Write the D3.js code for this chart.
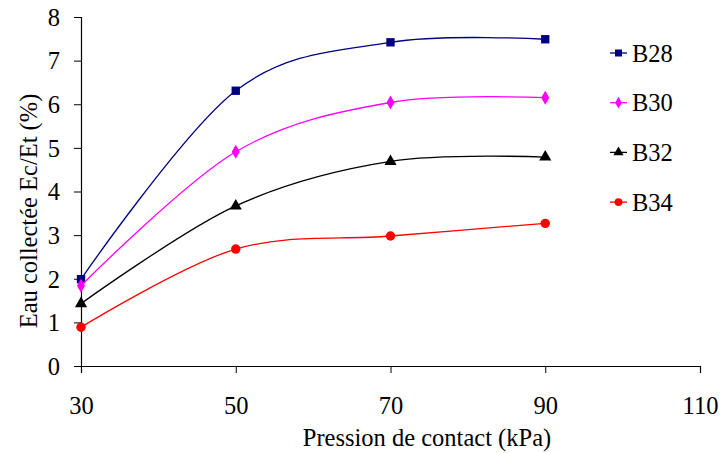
<!DOCTYPE html>
<html>
<head>
<meta charset="utf-8">
<script src="https://cdn.jsdelivr.net/npm/d3@7"></script>
<style>
  html, body { margin: 0; padding: 0; background: #fff; }
</style>
</head>
<body>
<svg id="chart" width="720" height="453"></svg>
<script>
// Contact pressure (kPa) and collected water ratio Ec/Et (%) per series
const pressures = [30, 50, 70, 90];
const seriesNames = ["B28", "B30", "B32", "B34"];
const b28 = [1.99, 6.31, 7.42, 7.49];
const b30 = [1.84, 4.91, 6.04, 6.15];
const b32 = [1.43, 3.67, 4.69, 4.79];
const b34 = [0.89, 2.68, 2.98, 3.27];
const xTicks = [30, 50, 70, 90, 110];
const yTicks = [0, 1, 2, 3, 4, 5, 6, 7, 8];

const FONT = "Liberation Serif, Times New Roman, serif";
const colors = { B28: "#000080", B30: "#ff00ff", B32: "#000000", B34: "#ff0000" };
const symbols = { B28: d3.symbolSquare, B30: d3.symbolDiamond, B32: d3.symbolTriangle, B34: d3.symbolCircle };
const symSize = { B28: 70, B30: 56, B32: 64, B34: 70 };

const series = [
  { name: "B28", values: b28 },
  { name: "B30", values: b30 },
  { name: "B32", values: b32 },
  { name: "B34", values: b34 }
];

const svg = d3.select("#chart");
const x = d3.scaleLinear().domain([30, 110]).range([81, 700]);
const y = d3.scaleLinear().domain([0, 8]).range([366, 17]);

// Axes
const xAxis = svg.append("g").attr("transform", `translate(0,${y(0)})`)
  .call(d3.axisBottom(x).tickValues(xTicks).tickSize(7).tickPadding(24).tickFormat(d3.format("d")));
const yAxis = svg.append("g").attr("transform", `translate(${x(30)},0)`)
  .call(d3.axisLeft(y).tickValues(yTicks).tickSize(7).tickPadding(14).tickFormat(d3.format("d")));
[xAxis, yAxis].forEach(g => {
  g.attr("font-family", FONT).attr("font-size", 24.5);
  g.selectAll("path.domain").attr("stroke", "#000").attr("stroke-width", 1.2);
  g.selectAll(".tick line").attr("stroke", "#000").attr("stroke-width", 1);
  g.selectAll(".tick text").attr("fill", "#000");
});
yAxis.selectAll(".tick text").attr("dy", "0.34em");
xAxis.selectAll(".tick text").attr("dy", "0.71em");

// Axis titles
svg.append("text").attr("x", 427).attr("y", 446).attr("text-anchor", "middle")
  .attr("font-family", FONT).attr("font-size", 24.5).attr("fill", "#000")
  .text("Pression de contact (kPa)");
svg.append("text").attr("transform", "translate(37,211) rotate(-90)")
  .attr("text-anchor", "middle")
  .attr("font-family", FONT).attr("font-size", 24.5).attr("fill", "#000")
  .text("Eau collectée Ec/Et (%)");

// Smoothed series lines and markers
const line = d3.line().x(d => x(d[0])).y(d => y(d[1])).curve(d3.curveCardinal.tension(0));
series.forEach(s => {
  const pts = pressures.map((p, i) => [p, s.values[i]]);
  svg.append("path").datum(pts).attr("d", line)
    .attr("fill", "none").attr("stroke", colors[s.name]).attr("stroke-width", 1.3);
  svg.selectAll(null).data(pts).enter().append("path")
    .attr("transform", d => `translate(${x(d[0])},${y(d[1])})`)
    .attr("d", d3.symbol().type(symbols[s.name]).size(symSize[s.name]))
    .attr("fill", colors[s.name]);
});

// Legend
const legend = svg.append("g");
seriesNames.forEach((name, i) => {
  const cy = 53 + i * 49.7;
  legend.append("line").attr("x1", 610).attr("x2", 627).attr("y1", cy).attr("y2", cy)
    .attr("stroke", colors[name]).attr("stroke-width", 1.3);
  legend.append("path").attr("transform", `translate(618.5,${cy})`)
    .attr("d", d3.symbol().type(symbols[name]).size(symSize[name] * 0.7)).attr("fill", colors[name]);
  legend.append("text").attr("x", 632).attr("y", cy).attr("dy", "0.35em")
    .attr("font-family", FONT).attr("font-size", 24.5).attr("fill", "#000").text(name);
});
</script>
</body>
</html>
